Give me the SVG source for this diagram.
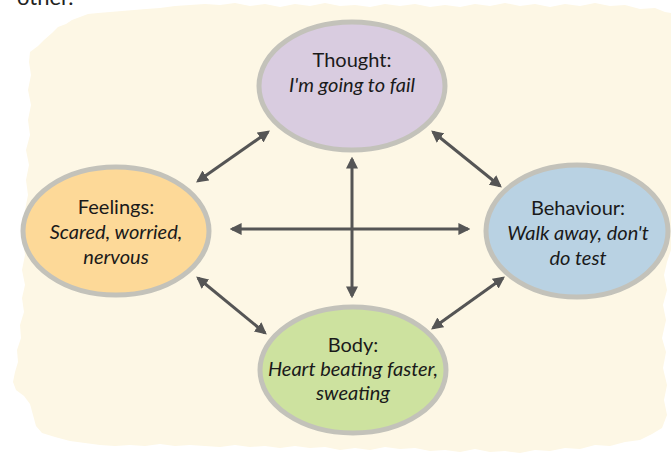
<svg xmlns="http://www.w3.org/2000/svg" width="671" height="463" viewBox="0 0 671 463">
<style>
  .node ellipse { stroke: #c3c2ba; stroke-width: 5; }
  .t { font-family: Lato, "Open Sans", "Liberation Sans", sans-serif; font-size: 20px; fill: #1a1a1a; text-anchor: middle; }
  .i { font-style: italic; }
  .conn line { stroke: #555555; stroke-width: 3; marker-start: url(#ah); marker-end: url(#ah); }
</style>
<defs>
  <marker id="ah" viewBox="0 0 10 10" refX="8" refY="5" markerWidth="4" markerHeight="4" orient="auto-start-reverse">
    <path d="M0,0 L10,5 L0,10 z" fill="#555555"/>
  </marker>
</defs>
<rect width="671" height="463" fill="#ffffff"/>
<text x="17" y="5" font-family="Lato, 'Open Sans', sans-serif" font-size="22" fill="#222222">other.</text>
<path id="background" fill="#fdf7e5" d="M30,52 L38,46 L44,40 L52,33 L58,27 L66,24 L72,20 L80,17 L88,14 L98,13 L110,12 L122,11 L134,10 L146,9 L160,8 L175,6 L190,5 L205,4 L220,5 L235,3 L250,6 L265,4 L280,7 L295,4 L310,6 L325,3 L340,6 L355,5 L370,7 L385,4 L400,6 L415,4 L430,7 L445,5 L460,7 L475,4 L490,6 L505,3 L520,6 L535,4 L550,7 L565,4 L580,6 L595,3 L610,6 L625,5 L640,9 L655,8 L665,12 L671,13 L671,250 L667,262 L664,275 L667,290 L663,305 L666,320 L662,338 L666,352 L663,368 L667,385 L664,400 L667,415 L662,428 L652,434 L640,440 L625,442 L610,446 L595,445 L580,449 L565,448 L550,451 L535,450 L520,453 L505,451 L490,452 L475,449 L460,452 L445,450 L430,451 L415,448 L400,449 L385,447 L370,450 L355,448 L340,450 L325,447 L310,448 L295,446 L280,448 L265,446 L250,447 L235,445 L220,447 L205,446 L190,445 L175,446 L160,444 L145,446 L130,445 L115,446 L100,445 L85,443 L70,441 L55,437 L42,433 L36,426 L33,415 L30,404 L24,396 L16,390 L13,382 L15,372 L18,362 L17,350 L21,338 L20,325 L24,312 L22,298 L25,285 L22,270 L25,255 L23,240 L27,225 L25,210 L28,195 L26,180 L29,165 L26,150 L30,135 L28,120 L31,105 L28,90 L31,75 L29,62 Z"/>
<g id="connectors" class="conn">
  <line x1="268" y1="132" x2="198" y2="181"/>
  <line x1="433" y1="132" x2="500" y2="186"/>
  <line x1="198" y1="278" x2="265" y2="333"/>
  <line x1="503" y1="278" x2="433" y2="328"/>
  <line x1="232" y1="229" x2="468" y2="229"/>
  <line x1="352" y1="159" x2="352" y2="296"/>
</g>
<g id="thought" class="node">
  <ellipse cx="352" cy="86" rx="93" ry="64" fill="#d9cce0"/>
  <text class="t" x="352" y="67">Thought:</text>
  <text class="t i" x="352" y="92">I'm going to fail</text>
</g>
<g id="feelings" class="node">
  <ellipse cx="116" cy="231" rx="93" ry="64" fill="#fdd998"/>
  <text class="t" x="116" y="214">Feelings:</text>
  <text class="t i" x="116" y="239">Scared, worried,</text>
  <text class="t i" x="116" y="264">nervous</text>
</g>
<g id="behaviour" class="node">
  <ellipse cx="577" cy="231" rx="91" ry="66" fill="#b9d2e3"/>
  <text class="t" x="578" y="215">Behaviour:</text>
  <text class="t i" x="578" y="240">Walk away, don't</text>
  <text class="t i" x="578" y="265">do test</text>
</g>
<g id="body" class="node">
  <ellipse cx="353" cy="370" rx="93" ry="63" fill="#cde29f"/>
  <text class="t" x="353" y="352">Body:</text>
  <text class="t i" x="353" y="376">Heart beating faster,</text>
  <text class="t i" x="353" y="400">sweating</text>
</g>
</svg>
